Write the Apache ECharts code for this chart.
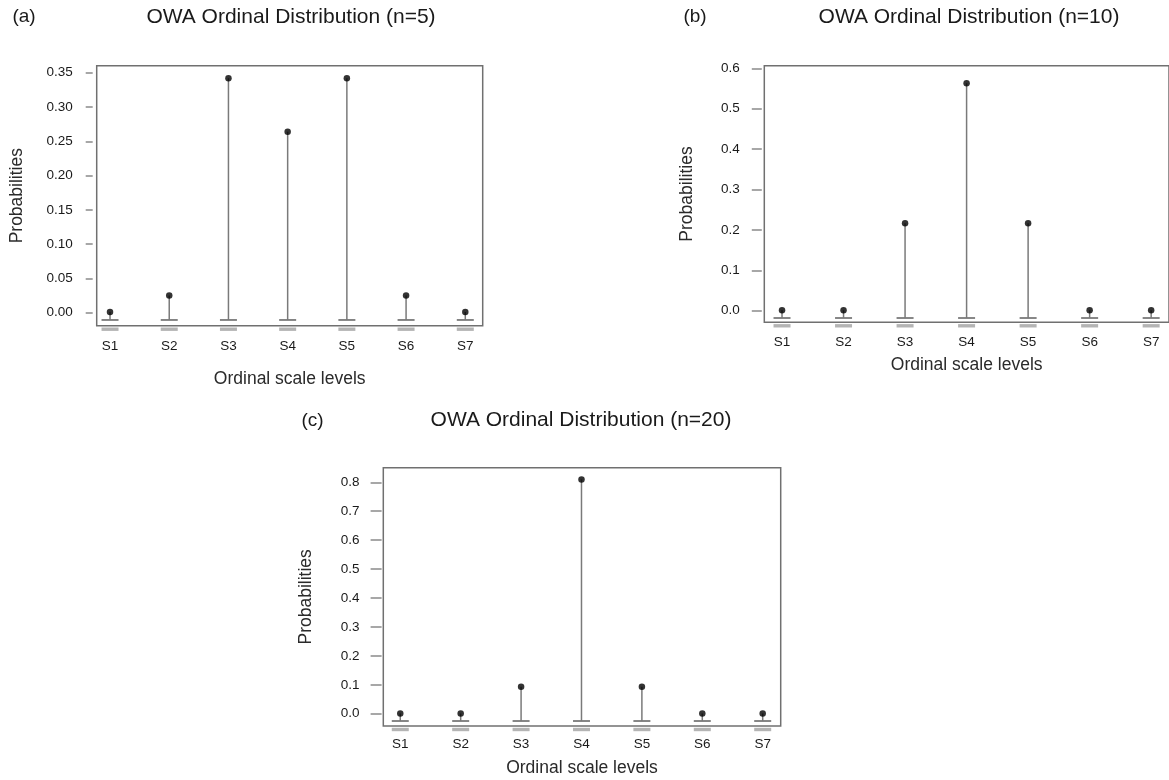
<!DOCTYPE html>
<html>
<head>
<meta charset="utf-8">
<script src="https://cdn.jsdelivr.net/npm/echarts@6/dist/echarts.min.js"></script>
<style>
html,body{margin:0;padding:0;background:#fff;}
#chart{width:1169px;height:780px;}
</style>
</head>
<body>
<div id="chart"></div>
<script>
// ---- data ----
const categories = ['S1', 'S2', 'S3', 'S4', 'S5', 'S6', 'S7'];
const valuesN5  = [0.001, 0.025, 0.342, 0.264, 0.342, 0.025, 0.001];
const valuesN10 = [0.001, 0.001, 0.2165, 0.563, 0.2165, 0.001, 0.001];
const valuesN20 = [0.001, 0.001, 0.0933, 0.810, 0.0933, 0.001, 0.001];
const yTicksN5  = [0, 0.05, 0.10, 0.15, 0.20, 0.25, 0.30, 0.35];
const yTicksN10 = [0, 0.1, 0.2, 0.3, 0.4, 0.5, 0.6];
const yTicksN20 = [0, 0.1, 0.2, 0.3, 0.4, 0.5, 0.6, 0.7, 0.8];
const titles = ['OWA Ordinal Distribution (n=5)', 'OWA Ordinal Distribution (n=10)', 'OWA Ordinal Distribution (n=20)'];
const panelLetters = ['(a)', '(b)', '(c)'];
const xName = 'Ordinal scale levels';
const yName = 'Probabilities';

// ---- layout / style ----
const FONT = '"Liberation Sans", Arial, Helvetica, sans-serif';
const panels = [
  { values: valuesN5, ticks: yTicksN5, dec: 2,
    grid: { left: 96.7, top: 65.7, width: 386, height: 260 },
    xMin: 0.775, xMax: 7.294, yMin: -0.019, yMax: 0.3602,
    yOffset: 4, tickLen: 7, yLabelMargin: 20, xLabelMargin: 14, xNameGap: 44, yNameGap: 67,
    title: [291, 17], letter: [24, 17] },
  { values: valuesN10, ticks: yTicksN10, dec: 1,
    grid: { left: 764.3, top: 65.7, width: 410.5, height: 256.6 },
    xMin: 0.712, xMax: 7.29, yMin: -0.0287, yMax: 0.6064,
    yOffset: 2.5, tickLen: 10, yLabelMargin: 22, xLabelMargin: 13, xNameGap: 34, yNameGap: 66,
    title: [969, 17], letter: [695, 17] },
  { values: valuesN20, ticks: yTicksN20, dec: 1,
    grid: { left: 383.3, top: 467.7, width: 397.4, height: 258.3 },
    xMin: 0.719, xMax: 7.298, yMin: -0.0425, yMax: 0.8505,
    yOffset: 1.7, tickLen: 11, yLabelMargin: 22, xLabelMargin: 11.5, xNameGap: 33, yNameGap: 66,
    title: [581, 420], letter: [312.5, 421] }
];

const chart = echarts.init(document.getElementById('chart'), null, { renderer: 'canvas' });

const grids = [], xAxes = [], yAxes = [], series = [], graphics = [];
panels.forEach((p, i) => {
  grids.push(Object.assign({ show: true, borderColor: '#707070', borderWidth: 1.5, backgroundColor: 'transparent', containLabel: false }, p.grid));
  const catIdx = categories.map((c, k) => k + 1);
  xAxes.push({
    type: 'value', gridIndex: i, min: p.xMin, max: p.xMax,
    name: xName, nameLocation: 'middle', nameGap: p.xNameGap,
    nameTextStyle: { fontFamily: FONT, fontSize: 17.5, color: '#2a2a2a' },
    axisLine: { show: false }, axisTick: { show: false }, splitLine: { show: false },
    axisLabel: {
      customValues: catIdx, margin: p.xLabelMargin,
      fontFamily: FONT, fontSize: 13.5, color: '#1a1a1a',
      formatter: v => categories[Math.round(v) - 1] || ''
    }
  });
  yAxes.push({
    type: 'value', gridIndex: i, min: p.yMin, max: p.yMax, offset: p.yOffset,
    name: yName, nameLocation: 'middle', nameGap: p.yNameGap,
    nameTextStyle: { fontFamily: FONT, fontSize: 17.5, color: '#2a2a2a' },
    axisLine: { show: false },
    splitLine: { show: false },
    axisTick: { show: true, customValues: p.ticks, length: p.tickLen, lineStyle: { color: '#8a8a8a', width: 1.5 } },
    axisLabel: {
      customValues: p.ticks, margin: p.yLabelMargin,
      fontFamily: FONT, fontSize: 13.5, color: '#1a1a1a',
      formatter: v => Number(v).toFixed(p.dec)
    }
  });
  const data = p.values.map((v, k) => [k + 1, v]);
  series.push({
    type: 'custom', xAxisIndex: i, yAxisIndex: i, clip: false, z: 2,
    data: data, encode: { x: 0, y: 1 }, silent: true,
    renderItem: function (params, api) {
      const x = api.value(0), v = api.value(1);
      const top = api.coord([x, v]);
      const zero = api.coord([x, 0]);
      const baseY = zero[1] + 7.3;
      const cs = params.coordSys;
      const boxBottom = cs.y + cs.height;
      return {
        type: 'group',
        children: [
          { type: 'line', shape: { x1: top[0], y1: top[1], x2: top[0], y2: baseY },
            style: { stroke: '#7a7a7a', lineWidth: 1.5 } },
          { type: 'line', shape: { x1: top[0] - 8.5, y1: baseY, x2: top[0] + 8.5, y2: baseY },
            style: { stroke: '#7a7a7a', lineWidth: 1.8 } },
          { type: 'rect', shape: { x: top[0] - 8.5, y: boxBottom + 1.8, width: 17, height: 3.4 },
            style: { fill: '#b4b4b4' } }
        ]
      };
    }
  });
  series.push({
    type: 'scatter', xAxisIndex: i, yAxisIndex: i, z: 5, silent: true,
    data: data, symbol: 'circle', symbolSize: 6.5,
    itemStyle: { color: '#000' }
  });
  graphics.push({
    type: 'text', x: p.title[0], y: p.title[1],
    style: { text: titles[i], font: '21px ' + FONT, fill: '#1a1a1a', textAlign: 'center', textVerticalAlign: 'middle' }
  });
  graphics.push({
    type: 'text', x: p.letter[0], y: p.letter[1],
    style: { text: panelLetters[i], font: '19px ' + FONT, fill: '#1a1a1a', textAlign: 'center', textVerticalAlign: 'middle' }
  });
});

chart.setOption({
  backgroundColor: '#ffffff',
  animation: false,
  grid: grids,
  xAxis: xAxes,
  yAxis: yAxes,
  series: series,
  graphic: graphics
});
</script>
</body>
</html>
